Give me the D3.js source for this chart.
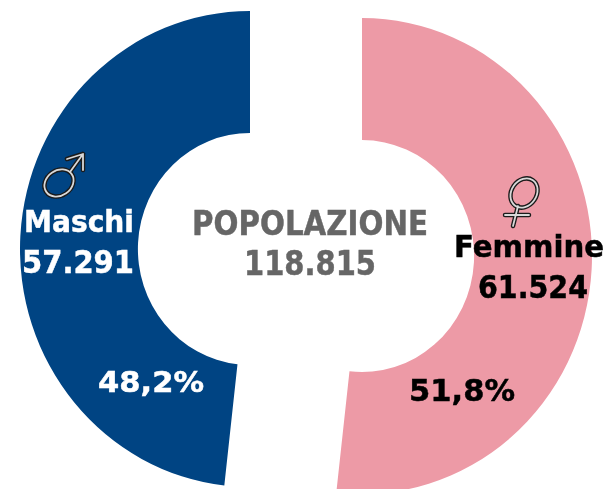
<!DOCTYPE html>
<html><head><meta charset="utf-8">
<script src="https://cdnjs.cloudflare.com/ajax/libs/d3/7.8.5/d3.min.js"></script>
<style>html,body{margin:0;padding:0;background:#fff}svg{display:block}</style>
</head><body><div id="c"></div>
<script>
const categories = ["Femmine","Maschi"];
const values = [61524,57291];
const valueLabels = ["61.524","57.291"];
const percentLabels = ["51,8%","48,2%"];
const colors = ["#ED9AA6","#004483"];
const totalTitle = "POPOLAZIONE", totalLabel = "118.815";

const W=607,H=489;
const svg=d3.select("#c").append("svg").attr("width",W).attr("height",H);
const defs=svg.append("defs");
defs.append("filter").attr("id","soft").append("feGaussianBlur").attr("stdDeviation",0.45);
const root=svg.append("g");
const pie=d3.pie().sort(null).value(d=>d);
const arc=d3.arc().innerRadius(116).outerRadius(238);
const centres=[[362,256],[250,249]];
const sx=230/238;
root.selectAll("path.slice").data(pie(values)).join("path").attr("class","slice")
  .attr("transform",(d,i)=>`translate(${centres[i][0]},${centres[i][1]}) scale(${sx},1)`)
  .attr("d",arc).attr("fill",(d,i)=>colors[i]);

const font="'DejaVu Sans',Verdana,sans-serif";
const tg=root.append("g").attr("filter","url(#soft)");
function label(t,x,y,size,fill,len){
  const s=tg.append("text").text(t).attr("text-anchor","middle")
   .attr("font-family",font).attr("font-weight","bold").attr("font-size",size).attr("fill",fill)
   .attr("stroke",fill).attr("stroke-width",0.5);
  const k=len/s.node().getComputedTextLength();
  s.attr("transform",`translate(${x},${y}) scale(${k},1)`);
}
label(totalTitle,310,235,34,"#666666",236);
label(totalLabel,310,275,33,"#666666",132);
label(categories[1],79,232,30,"#fff",110);
label(valueLabels[1],78,273,32,"#fff",112);
label(categories[0],529,257,31,"#000",150);
label(valueLabels[0],533,298,32,"#000",110);
label(percentLabels[1],151,392,29,"#fff",106);
label(percentLabels[0],462,401,30,"#000",106);

// gender symbols
function glyph(draw){
  [["#1a1a1a",4.5],["#d8d8d8",1.8]].forEach(([c,w])=>draw(c,w));
}
glyph((c,w)=>{
  const g=tg.append("g").attr("fill","none").attr("stroke",c).attr("stroke-width",w).attr("stroke-linecap","round").attr("stroke-linejoin","round");
  g.append("ellipse").attr("cx",59).attr("cy",183).attr("rx",15.5).attr("ry",12.5).attr("transform","rotate(-35 59 183)");
  g.append("path").attr("d","M70,172L83,154M67,159L83,154L83,170");
});
glyph((c,w)=>{
  const g=tg.append("g").attr("fill","none").attr("stroke",c).attr("stroke-width",w).attr("stroke-linecap","round");
  g.append("ellipse").attr("cx",524).attr("cy",193).attr("rx",15.5).attr("ry",12.5).attr("transform","rotate(-55 524 193)");
  g.append("path").attr("d","M518,206L513,226M505,215L529,215");
});
</script></body></html>
